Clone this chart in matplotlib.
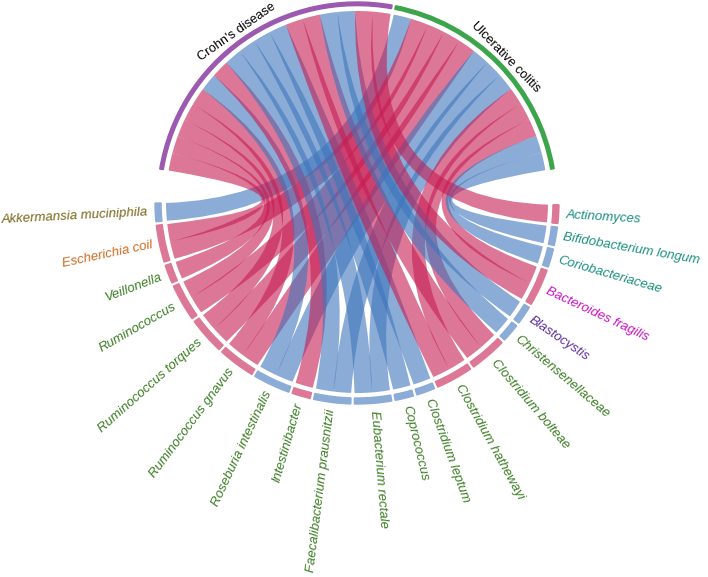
import numpy as np
import matplotlib.pyplot as plt
from matplotlib.path import Path
from matplotlib.patches import PathPatch, Wedge

plt.rcParams['font.family'] = ['Liberation Sans', 'DejaVu Sans']

diseases = ["Crohn's disease", 'Ulcerative colitis']
disease_colors = ['#9B5AAF', '#3CA54B']

bacteria = ['Akkermansia muciniphila', 'Escherichia coil', 'Veillonella', 'Ruminococcus',
            'Ruminococcus torques', 'Ruminococcus gnavus', 'Roseburia intestinalis',
            'Intestinibacter', 'Faecalibacterium prausnitzii', 'Eubacterium rectale',
            'Coprococcus', 'Clostridium leptum', 'Clostridium hathewayi', 'Clostridium bolteae',
            'Christensenellaceae', 'Blastocystis', 'Bacteroides fragilis', 'Coriobacteriaceae',
            'Bifidobacterium longum', 'Actinomyces']
label_colors = ['#7A6418', '#D2691E'] + ['#3A7D22'] * 13 + ['#5B2CA0', '#CC10C8',
                                                            '#1A9080', '#1A9080', '#1A9080']
# 'up' = increased (pink), 'down' = decreased (blue)
change = ['down', 'up', 'up', 'up', 'up', 'up', 'down', 'up', 'down', 'down',
          'down', 'down', 'up', 'up', 'down', 'down', 'up', 'down', 'down', 'up']
in_cd = [0, 1, 1, 1, 1, 1, 1, 1, 1, 1, 1, 1, 1, 1, 1, 1, 1, 0, 0, 1]
in_uc = [1, 1, 0, 1, 1, 1, 1, 0, 1, 1, 0, 0, 1, 1, 0, 0, 1, 1, 1, 0]

ribbon_colors = {'up': '#C61C53', 'down': '#3E75BB'}
segment_colors = {'up': '#DD7798', 'down': '#8BACD6'}

W = 5.33      # degrees per link
GAP = 1.0
R = 0.955     # ribbon radius
cd_start = 170.5
uc_start = cd_start - sum(in_cd) * W - GAP
b_start = 180.3


def pol(a, r):
    return r * np.cos(np.radians(a)), r * np.sin(np.radians(a))


def arc(a1, a2, r, n=25):
    return [pol(a, r) for a in np.linspace(a1, a2, n)]


def ribbon(d_lo, d_hi, b_lo, b_hi, color):
    # both borders share one link height, like circlize does
    u = np.array(pol((d_lo + d_hi + b_lo + b_hi) / 4, 1.0))
    m1 = np.dot((np.array(pol(d_hi, R)) + np.array(pol(b_lo, R))) / 2, u)
    m2 = np.dot((np.array(pol(d_lo, R)) + np.array(pol(b_hi, R))) / 2, u)
    if m1 + m2 < 0:
        u, m1, m2 = -u, -m1, -m2
    h = 0.5 * (m1 + m2) / 2
    c1 = tuple((m1 - 2 * h) * u)
    c2 = tuple((m2 - 2 * h) * u)

    pts = arc(d_lo, d_hi, R)
    verts = list(pts)
    codes = [Path.MOVETO] + [Path.LINETO] * (len(pts) - 1)
    verts += [c1, pol(b_lo, R)]
    codes += [Path.CURVE3, Path.CURVE3]
    pts = arc(b_lo, b_hi, R)[1:]
    verts += pts
    codes += [Path.LINETO] * len(pts)
    verts += [c2, pol(d_lo, R)]
    codes += [Path.CURVE3, Path.CURVE3]
    verts.append(pol(d_lo, R))
    codes.append(Path.CLOSEPOLY)
    return PathPatch(Path(verts, codes), facecolor=color, edgecolor='none', alpha=0.6)


fig = plt.figure(figsize=(7.08, 5.77), dpi=100)
ax = fig.add_axes([0, 0, 1, 1])
ax.set_xlim(-1.785, 1.755)
ax.set_ylim(-1.875, 1.01)
ax.set_aspect('equal')
ax.axis('off')

# disease sectors
d_ranges = [(cd_start - sum(in_cd) * W, cd_start), (uc_start - sum(in_uc) * W, uc_start)]
for (lo, hi), name, col in zip(d_ranges, diseases, disease_colors):
    ax.add_patch(Wedge((0, 0), 1.0, lo, hi, width=0.018, color=col))
    mid = (lo + hi) / 2
    x, y = pol(mid, 1.04)
    ax.text(x, y, name, rotation=mid - 90, ha='center', va='center', fontsize=9.3)

# links and bacteria sectors
cursor = b_start
k_cd = 0
k_uc = 0
for i, name in enumerate(bacteria):
    n = in_cd[i] + in_uc[i]
    lo, hi = cursor, cursor + n * W
    ax.add_patch(Wedge((0, 0), 1.01, lo, hi, width=0.03, color=segment_colors[change[i]]))
    pos = lo
    if in_cd[i]:
        d_hi = cd_start - k_cd * W
        ax.add_patch(ribbon(d_hi - W, d_hi, pos, pos + W, ribbon_colors[change[i]]))
        k_cd += 1
        pos += W
    if in_uc[i]:
        d_hi = uc_start - k_uc * W
        ax.add_patch(ribbon(d_hi - W, d_hi, pos, pos + W, ribbon_colors[change[i]]))
        k_uc += 1
        pos += W
    mid = (lo + hi) / 2
    x, y = pol(mid, 1.045)
    if mid < 270:
        ax.text(x, y, name, rotation=mid - 180, ha='right', va='center', rotation_mode='anchor',
                fontsize=9.5, style='italic', color=label_colors[i])
    else:
        ax.text(x, y, name, rotation=mid - 360, ha='left', va='center', rotation_mode='anchor',
                fontsize=9.5, style='italic', color=label_colors[i])
    cursor = hi + GAP

fig.savefig('out.png', dpi=100)
